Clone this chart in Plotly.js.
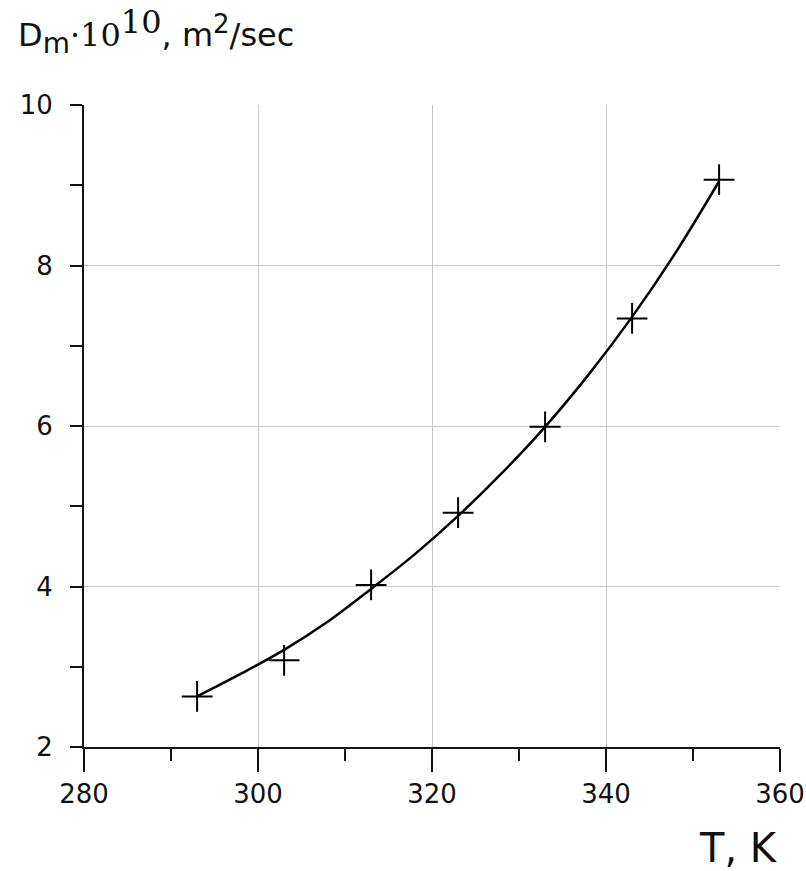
<!DOCTYPE html>
<html>
<head>
<meta charset="utf-8">
<script src="https://cdn.plot.ly/plotly-3.0.1.min.js"></script>
<style>
  html, body { margin: 0; padding: 0; background: #fff; }
  #chart { width: 806px; height: 871px; }
</style>
</head>
<body>
<div id="chart"></div>
<script>
// Measured points (temperature, K; diffusion coefficient Dm·10^10, m²/s)
const pointT = [293, 303, 313, 323, 333, 343, 353];
const pointD = [2.63, 3.08, 4.02, 4.92, 5.99, 7.34, 9.07];

// Smooth fitted curve
const curveT = [293, 298, 303, 308, 313, 318, 323, 328, 333, 338, 343, 348, 353];
const curveD = [2.63, 2.91, 3.21, 3.56, 3.97, 4.40, 4.88, 5.41, 5.99, 6.64, 7.36, 8.16, 9.05];

const xTicks = [280, 300, 320, 340, 360];
const yTicks = [2, 4, 6, 8, 10];

const yTitle = "D<sub><span style='font-size:28px'>m</span></sub>" +
  "<span style='font-family:DejaVu Serif, serif'>·10<sup><span style='font-size:32px'>10</span></sup></span>" +
  ", m<sup><span style='font-size:26px'>2</span></sup>/sec";
const xTitle = 'T, K';

const traces = [
  {
    x: curveT, y: curveD, mode: 'lines', type: 'scatter',
    line: { color: '#000', width: 2.5, shape: 'spline', smoothing: 1 },
    hoverinfo: 'skip', showlegend: false
  },
  {
    x: pointT, y: pointD, mode: 'markers', type: 'scatter',
    marker: { symbol: 'cross-thin', size: 22, color: '#000', line: { color: '#000', width: 2 } },
    showlegend: false
  }
];

const tickFont = { family: 'DejaVu Sans, sans-serif', size: 26, color: '#111' };

const layout = {
  width: 806, height: 871,
  margin: { l: 84, r: 26, t: 105, b: 124 },
  paper_bgcolor: '#fff', plot_bgcolor: '#fff',
  showlegend: false,
  xaxis: {
    range: [280, 360], tickmode: 'array', tickvals: xTicks, ticktext: xTicks.map(String),
    showline: true, linecolor: '#111', linewidth: 2,
    ticks: 'outside', ticklen: 23, tickwidth: 2, tickcolor: '#111',
    minor: { dtick: 10, tick0: 290, ticks: 'outside', ticklen: 12, tickwidth: 2, tickcolor: '#111', showgrid: false },
    showgrid: true, gridcolor: '#c8c8c8', gridwidth: 1,
    zeroline: false, tickfont: tickFont, fixedrange: true
  },
  yaxis: {
    range: [2, 10], tickmode: 'array', tickvals: yTicks, ticktext: yTicks.map(String),
    showline: true, linecolor: '#111', linewidth: 2,
    ticks: 'outside', ticklen: 12, tickwidth: 2, tickcolor: '#111',
    ticklabelstandoff: 12,
    minor: { dtick: 1, tick0: 3, ticks: 'outside', ticklen: 12, tickwidth: 2, tickcolor: '#111', showgrid: false },
    showgrid: true, gridcolor: '#c8c8c8', gridwidth: 1,
    zeroline: false, tickfont: tickFont, fixedrange: true
  },
  annotations: [
    {
      xref: 'paper', yref: 'paper', x: -0.097, y: 1.114, xanchor: 'left', yanchor: 'middle',
      showarrow: false, text: yTitle,
      font: { family: 'DejaVu Sans, sans-serif', size: 32, color: '#111' }
    },
    {
      xref: 'paper', yref: 'paper', x: 1, y: -0.157, xanchor: 'right', yanchor: 'middle',
      showarrow: false, text: xTitle,
      font: { family: 'DejaVu Sans, sans-serif', size: 40, color: '#111' }
    }
  ]
};

Plotly.newPlot('chart', traces, layout, { displayModeBar: false, staticPlot: true });
</script>
</body>
</html>
